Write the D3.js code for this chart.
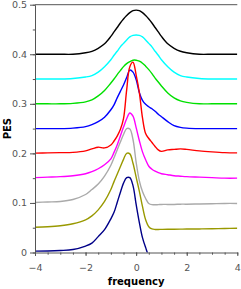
<!DOCTYPE html>
<html>
<head>
<meta charset="utf-8">
<script src="https://cdn.jsdelivr.net/npm/d3@7"></script>
<style>
  body { margin: 0; background: #fff; }
  svg { display: block; font-family: "DejaVu Sans", sans-serif; }
</style>
</head>
<body>
<div id="chart"></div>
<script>
// frequency grid shared by all curves
const frequency = [-4, -3.5, -3, -2.5, -2, -1.75, -1.5, -1.25, -1, -0.875, -0.75, -0.625, -0.5, -0.375, -0.25, -0.125,
  0, 0.125, 0.25, 0.375, 0.5, 0.625, 0.75, 0.875, 1, 1.25, 1.5, 1.75, 2, 2.5, 3, 3.5, 4];

// PES curves, already shifted by their offset
const pesNavy = [0.0027, 0.003, 0.004, 0.006, 0.013, 0.019, 0.032, 0.046, 0.068, 0.081, 0.101, 0.121, 0.140, 0.151, 0.151, 0.135,
  0.097, 0.061, 0.030, 0.010, -0.006, -0.012, -0.015, -0.015, -0.015, -0.014, -0.013, -0.012, -0.011, -0.010, -0.009, -0.008, -0.008];
const pesOlive = [0.051, 0.052, 0.054, 0.058, 0.066, 0.074, 0.086, 0.103, 0.127, 0.143, 0.158, 0.173, 0.188, 0.200, 0.199, 0.180,
  0.152, 0.124, 0.093, 0.066, 0.052, 0.0475, 0.0465, 0.0465, 0.0467, 0.047, 0.047, 0.0472, 0.0473, 0.0475, 0.048, 0.0485, 0.049];
const pesGrey = [0.101, 0.102, 0.103, 0.107, 0.117, 0.127, 0.138, 0.154, 0.176, 0.191, 0.207, 0.223, 0.238, 0.250, 0.249, 0.228,
  0.182, 0.145, 0.123, 0.109, 0.099, 0.0965, 0.0965, 0.0965, 0.097, 0.097, 0.097, 0.0975, 0.0975, 0.098, 0.0985, 0.099, 0.099];
const pesMagenta = [0.151, 0.152, 0.153, 0.155, 0.159, 0.163, 0.169, 0.177, 0.189, 0.202, 0.217, 0.235, 0.253, 0.270, 0.2815, 0.275,
  0.252, 0.226, 0.203, 0.187, 0.174, 0.168, 0.164, 0.161, 0.159, 0.157, 0.155, 0.154, 0.153, 0.152, 0.151, 0.150, 0.150];
const pesRed = [0.2005, 0.201, 0.2015, 0.202, 0.205, 0.209, 0.2125, 0.211, 0.217, 0.225, 0.235, 0.248, 0.270, 0.328, 0.375, 0.384,
  0.358, 0.323, 0.272, 0.240, 0.230, 0.222, 0.214, 0.207, 0.204, 0.207, 0.208, 0.209, 0.208, 0.205, 0.203, 0.2015, 0.201];
const pesBlue = [0.250, 0.250, 0.250, 0.251, 0.254, 0.258, 0.264, 0.273, 0.288, 0.298, 0.312, 0.325, 0.338, 0.353, 0.368, 0.364,
  0.349, 0.323, 0.307, 0.299, 0.294, 0.290, 0.285, 0.279, 0.274, 0.264, 0.256, 0.2525, 0.251, 0.250, 0.250, 0.250, 0.250];
const pesGreen = [0.300, 0.300, 0.300, 0.301, 0.304, 0.308, 0.316, 0.327, 0.342, 0.350, 0.359, 0.367, 0.375, 0.381, 0.385, 0.388,
  0.388, 0.386, 0.382, 0.376, 0.369, 0.361, 0.352, 0.344, 0.336, 0.322, 0.312, 0.306, 0.303, 0.300, 0.300, 0.300, 0.300];
const pesCyan = [0.350, 0.350, 0.350, 0.351, 0.354, 0.357, 0.364, 0.375, 0.389, 0.398, 0.406, 0.415, 0.422, 0.429, 0.435, 0.438,
  0.439, 0.438, 0.435, 0.429, 0.422, 0.415, 0.406, 0.398, 0.389, 0.375, 0.364, 0.357, 0.354, 0.351, 0.350, 0.350, 0.350];
const pesBlack = [0.400, 0.400, 0.400, 0.400, 0.403, 0.406, 0.412, 0.421, 0.436, 0.445, 0.454, 0.463, 0.471, 0.478, 0.484, 0.488,
  0.489, 0.488, 0.484, 0.478, 0.471, 0.463, 0.454, 0.445, 0.436, 0.421, 0.412, 0.406, 0.403, 0.400, 0.400, 0.400, 0.400];

const xTicks = [-4, -2, 0, 2, 4];
const yTicks = [0, 0.1, 0.2, 0.3, 0.4, 0.5];

// drawn from top curve to bottom one
const curves = [pesBlack, pesCyan, pesGreen, pesBlue, pesRed, pesMagenta, pesGrey, pesOlive, pesNavy];
const colors = ["#000000", "#00ffff", "#00e000", "#0000ff", "#ff0000", "#ff00ff", "#aaaaaa", "#999900", "#000088"];

const width = 241, height = 289;
const margin = {top: 4.7, right: 3.7, bottom: 36.5, left: 35};

const svg = d3.select("#chart")
  .append("svg")
  .attr("width", width)
  .attr("height", height);

const x = d3.scaleLinear()
  .domain([-4, 4])
  .range([margin.left, width - margin.right]);

const y = d3.scaleLinear()
  .domain([0, 0.5])
  .range([height - margin.bottom, margin.top]);

svg.append("clipPath")
  .attr("id", "plot-clip")
  .append("rect")
  .attr("x", margin.left)
  .attr("y", margin.top)
  .attr("width", width - margin.left - margin.right)
  .attr("height", height - margin.top - margin.bottom);

// curves
const line = d3.line()
  .x((d, i) => x(frequency[i]))
  .y(d => y(d))
  .curve(d3.curveCatmullRom.alpha(0.5));

svg.append("g")
  .attr("clip-path", "url(#plot-clip)")
  .selectAll("path")
  .data(curves)
  .enter()
  .append("path")
  .attr("d", d => line(d))
  .attr("fill", "none")
  .attr("stroke", (d, i) => colors[i])
  .attr("stroke-width", 1.4);

const axisColor = "#555";

// X axis, minor then major ticks
svg.append("g")
  .attr("transform", "translate(0," + y(0) + ")")
  .call(d3.axisBottom(x).tickValues(d3.range(-4, 4.01, 0.5)).tickSize(2.2).tickSizeOuter(0).tickFormat(""))
  .call(g => g.select(".domain").remove());

svg.append("g")
  .attr("transform", "translate(0," + y(0) + ")")
  .call(d3.axisBottom(x).tickValues(xTicks).tickSize(3.5).tickSizeOuter(0).tickPadding(8).tickFormat(d3.format("d")));

// Y axis
svg.append("g")
  .attr("transform", "translate(" + x(-4) + ",0)")
  .call(d3.axisLeft(y).tickValues(d3.range(0, 0.51, 0.05)).tickSize(2.2).tickSizeOuter(0).tickFormat(""))
  .call(g => g.select(".domain").remove());

svg.append("g")
  .attr("transform", "translate(" + x(-4) + ",0)")
  .call(d3.axisLeft(y).tickValues(yTicks).tickSize(5).tickSizeOuter(0).tickPadding(3)
    .tickFormat(d => d === 0 ? "0" : d3.format(".1f")(d)));

// top frame line
svg.append("line")
  .attr("x1", x(-4))
  .attr("x2", x(4))
  .attr("y1", y(0.5))
  .attr("y2", y(0.5))
  .attr("stroke", axisColor);

svg.selectAll(".domain, .tick line").attr("stroke", axisColor);
svg.selectAll(".tick text")
  .attr("fill", "#555")
  .style("font-size", "9.5px")
  .style("font-family", "'DejaVu Sans', sans-serif");

// axis titles
svg.append("text")
  .attr("x", (x(-4) + x(4)) / 2)
  .attr("y", 285)
  .attr("text-anchor", "middle")
  .style("font-size", "10px")
  .style("font-weight", "bold")
  .text("frequency");

svg.append("text")
  .attr("transform", "translate(11," + (y(0.25)) + ")rotate(-90)")
  .attr("text-anchor", "middle")
  .style("font-size", "10px")
  .style("font-weight", "bold")
  .text("PES");
</script>
</body>
</html>
